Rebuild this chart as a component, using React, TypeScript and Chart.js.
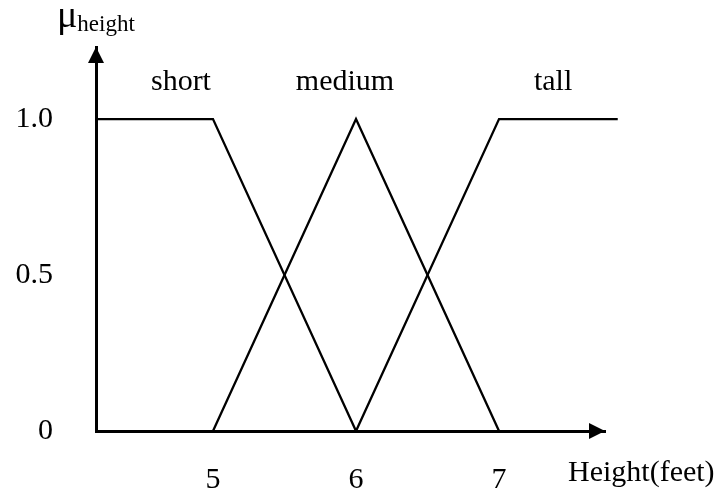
import React, { useEffect, useRef } from "react";
import { Chart, registerables } from "chart.js";

Chart.register(...registerables);

const FONT = "'Liberation Serif', 'Times New Roman', serif";

// Membership functions (x in feet, y membership)
const shortX = [4.182, 5, 6];
const shortY = [1, 1, 0];
const mediumX = [5, 6, 7];
const mediumY = [0, 1, 0];
const tallX = [6, 7, 7.83];
const tallY = [0, 1, 1];

const xTicks = [5, 6, 7];
const yTicks = [0, 0.5, 1];
const yTickLabels = ["0", "0.5", "1.0"];

const setNames = ["short", "medium", "tall"];
const setLabelX = [4.776, 5.923, 7.378];
const setLabelY = 1.119;

const xTitle = "Height(feet)";
const yTitleMain = "μ";
const yTitleSub = "height";

const toPts = (xs: number[], ys: number[]) => xs.map((x, i) => ({ x, y: ys[i] }));

const overlay = {
  id: "overlay",
  afterDraw(chart: any) {
    const { ctx, chartArea } = chart;
    const xs = chart.scales.x;
    const ys = chart.scales.y;
    ctx.save();
    ctx.fillStyle = "#000";
    // arrowheads
    const l = chartArea.left;
    const b = chartArea.bottom;
    const t = chartArea.top;
    const r = chartArea.right;
    ctx.beginPath();
    ctx.moveTo(l, t);
    ctx.lineTo(l - 8, t + 16);
    ctx.lineTo(l + 8, t + 16);
    ctx.closePath();
    ctx.fill();
    ctx.beginPath();
    ctx.moveTo(r, b);
    ctx.lineTo(r - 16, b - 8);
    ctx.lineTo(r - 16, b + 8);
    ctx.closePath();
    ctx.fill();

    // set labels
    ctx.font = `30px ${FONT}`;
    ctx.textAlign = "center";
    ctx.textBaseline = "middle";
    setNames.forEach((n, i) => {
      ctx.fillText(n, xs.getPixelForValue(setLabelX[i]), ys.getPixelForValue(setLabelY));
    });

    // x title
    ctx.textAlign = "left";
    ctx.fillText(xTitle, 568, 473);

    // y title
    ctx.font = `38px ${FONT}`;
    ctx.textBaseline = "alphabetic";
    ctx.fillText(yTitleMain, 57, 27);
    const w = ctx.measureText(yTitleMain).width;
    ctx.font = `23px ${FONT}`;
    ctx.fillText(yTitleSub, 57 + w, 31);
    ctx.restore();
  },
};

export default function App() {
  const ref = useRef<HTMLCanvasElement>(null);
  useEffect(() => {
    document.body.style.margin = "0";
    const lineDs = (label: string, xs: number[], ys: number[]) => ({
      label,
      data: toPts(xs, ys),
      showLine: true,
      borderColor: "#000",
      borderWidth: 2.3,
      pointRadius: 0,
      fill: false,
      clip: false as any,
      tension: 0,
    });
    const chart = new Chart(ref.current as HTMLCanvasElement, {
      type: "scatter",
      data: {
        datasets: [
          lineDs("short", shortX, shortY),
          lineDs("medium", mediumX, mediumY),
          lineDs("tall", tallX, tallY),
        ],
      },
      options: {
        responsive: false,
        animation: false,
        layout: { padding: { top: 47, right: 121, left: 0, bottom: 0 } },
        plugins: { legend: { display: false }, tooltip: { enabled: false } },
        scales: {
          x: {
            type: "linear",
            min: 4.182,
            max: 7.741,
            grid: { display: false, drawTicks: false },
            border: { display: true, color: "#000", width: 3 },
            afterBuildTicks: (s: any) => {
              s.ticks = xTicks.map((v) => ({ value: v }));
            },
            afterFit: (s: any) => {
              s.height = 60;
              s.paddingLeft = 0;
              s.paddingRight = 0;
            },
            ticks: {
              color: "#000",
              font: { family: FONT, size: 30 },
              padding: 31,
              maxRotation: 0,
              autoSkip: false,
            },
          },
          y: {
            type: "linear",
            min: 0,
            max: 1.231,
            grid: { display: false, drawTicks: false },
            border: { display: true, color: "#000", width: 3 },
            afterBuildTicks: (s: any) => {
              s.ticks = yTicks.map((v) => ({ value: v }));
            },
            afterFit: (s: any) => {
              s.width = 96;
              s.paddingTop = 0;
              s.paddingBottom = 0;
            },
            ticks: {
              color: "#000",
              font: { family: FONT, size: 30 },
              padding: 43,
              autoSkip: false,
              callback: (v: any) => {
                const i = yTicks.indexOf(Number(v));
                return i >= 0 ? yTickLabels[i] : "";
              },
            },
          },
        },
      },
      plugins: [overlay],
    });
    return () => chart.destroy();
  }, []);
  return (
    <canvas
      ref={ref}
      width={726}
      height={491}
      style={{ display: "block", position: "fixed", left: 0, top: 0, background: "#fff" }}
    />
  );
}
